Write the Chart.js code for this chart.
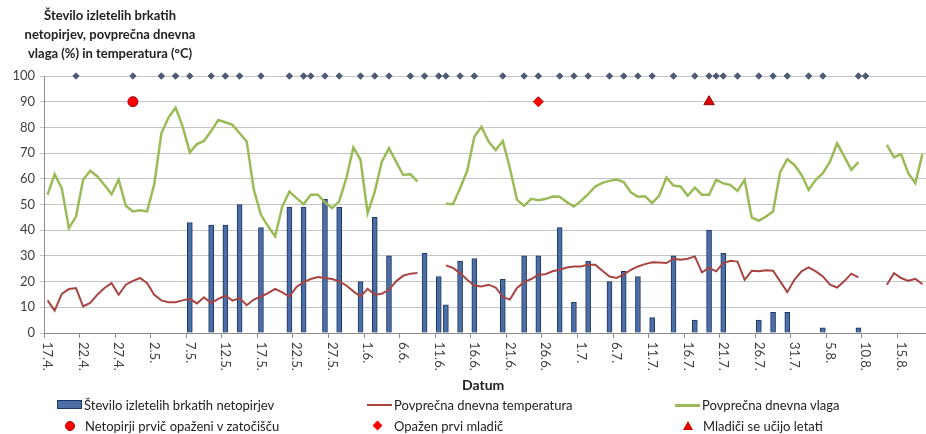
<!DOCTYPE html>
<html>
<head>
<meta charset="utf-8">
<script src="https://cdn.jsdelivr.net/npm/chart.js@4/dist/chart.umd.min.js"></script>
<style>
  body { margin: 0; background: #fff; font-family: Lato, "Open Sans", sans-serif; color: #222; }
  #wrap { position: relative; width: 926px; height: 434px; overflow: hidden; }
  #chart { position: absolute; left: 0; top: 0; }
  .title { position: absolute; left: 10px; top: 6px; width: 200px; text-align: center; font-weight: bold; font-size: 13px; line-height: 19px; }
  .axis-title { position: absolute; left: 462px; top: 376px; font-weight: bold; font-size: 14px; }
  .lg { position: absolute; font-size: 13px; line-height: 16px; white-space: nowrap; }
  .sym { position: absolute; }
</style>
</head>
<body>
<div id="wrap">
  <canvas id="chart" width="926" height="434"></canvas>
  <div class="title">Število izletelih brkatih<br>netopirjev, povprečna dnevna<br>vlaga (%) in temperatura (°C)</div>
  <div class="axis-title">Datum</div>

  <div class="sym" style="left:57px;top:400px;width:23px;height:7px;background:#4b6ea6;border:1px solid #1e3560;"></div>
  <div class="lg" style="left:84px;top:397px;">Število izletelih brkatih netopirjev</div>
  <div class="sym" style="left:367px;top:404px;width:25px;height:2px;background:#a84543;"></div>
  <div class="lg" style="left:394px;top:397px;">Povprečna dnevna temperatura</div>
  <div class="sym" style="left:675px;top:404px;width:25px;height:2.5px;background:#9bbb59;"></div>
  <div class="lg" style="left:702px;top:397px;">Povprečna dnevna vlaga</div>

  <div class="sym" style="left:65px;top:421px;width:8px;height:8px;border-radius:50%;background:#ff0000;border:1px solid #a00000;"></div>
  <div class="lg" style="left:85px;top:418px;">Netopirji prvič opaženi v zatočišču</div>
  <div class="sym" style="left:374px;top:422px;width:7px;height:7px;background:#ff0000;transform:rotate(45deg);"></div>
  <div class="lg" style="left:394px;top:418px;">Opažen prvi mladič</div>
  <div class="sym" style="left:683px;top:421px;width:0;height:0;border-left:5px solid transparent;border-right:5px solid transparent;border-bottom:9px solid #e00000;"></div>
  <div class="lg" style="left:703px;top:418px;">Mladiči se učijo letati</div>
</div>

<script>
// categories: one per day, 17.4. .. 18.8.
const startDay = 17, startMonth = 4, dayCount = 124;
const monthDays = { 4: 30, 5: 31, 6: 30, 7: 31, 8: 31 };
const days = [];
for (let d = startDay, m = startMonth; days.length < dayCount; d++) {
  if (d > monthDays[m]) { d = 1; m++; }
  days.push(d + '.' + m + '.');
}

// labels under the axis, every 5th day
const tickLabels = ['17.4.', '22.4.', '27.4.', '2.5.', '7.5.', '12.5.', '17.5.', '22.5.', '27.5.', '1.6.',
  '6.6.', '11.6.', '16.6.', '21.6.', '26.6.', '1.7.', '6.7.', '11.7.', '16.7.', '21.7.',
  '26.7.', '31.7.', '5.8.', '10.8.', '15.8.'];

// number of emerged bats (day index -> count)
const batDays   = [20, 23, 25, 27, 30, 34, 36, 39, 41, 44, 46, 48, 53, 55, 56, 58, 60, 64, 67, 69, 72, 74, 76, 79, 81, 83, 85, 88, 91, 93, 95, 100, 102, 104, 109, 114];
const batCounts = [43, 42, 42, 50, 41, 49, 49, 52, 49, 20, 45, 30, 31, 22, 11, 28, 29, 21, 30, 30, 41, 12, 28, 20, 24, 22, 6, 30, 5, 40, 31, 5, 8, 8, 2, 2];

// observation days (marker on 100)
const obsDays = [4, 12, 16, 18, 20, 23, 25, 27, 30, 34, 36, 37, 39, 41, 44, 46, 48, 51, 53, 55, 56, 58, 60, 64, 67, 69, 72, 74, 76, 79,
  81, 83, 85, 88, 91, 93, 94, 95, 97, 100, 102, 104, 107, 109, 114, 115];

const humidity = [
  53.8, 61.8, 56.3, 40.8, 45.3, 59.6, 63.1, 60.9, 57.6, 54.0,
  59.7, 49.5, 47.3, 47.8, 47.3, 57.9, 77.7, 83.8, 87.7, 80.3,
  70.3, 73.5, 74.7, 78.6, 82.9, 82.0, 81.0, 77.7, 74.5, 55.7,
  46.0, 41.5, 37.6, 49.2, 55.0, 52.5, 50.1, 53.8, 53.8, 50.8,
  48.6, 51.2, 60.2, 72.2, 67.4, 46.6, 55.0, 66.7, 71.9, 66.7,
  61.5, 61.8, 58.9, null, null, null, 50.4, 50.1, 56.3, 63.1,
  76.4, 80.3, 74.5, 71.2, 74.7, 64.1, 51.8, 49.5, 52.2, 51.7,
  52.1, 53.1, 53.0, 50.9, 49.2, 51.4, 54.0, 57.0, 58.4, 59.2,
  59.7, 58.7, 54.7, 53.0, 53.2, 50.6, 53.5, 60.5, 57.4, 57.0,
  53.4, 56.6, 53.8, 53.8, 59.6, 58.2, 57.6, 55.3, 59.6, 44.9,
  43.7, 45.3, 47.3, 62.6, 67.6, 65.4, 61.5, 55.7, 59.6, 62.2,
  66.7, 73.8, 68.7, 63.5, 66.5, null, null, null, 73.2, 68.3,
  69.6, 62.2, 58.3, 69.6
];

const temperature = [
  12.7, 8.7, 15.2, 17.1, 17.5, 10.4, 11.7, 14.9, 17.5, 19.4,
  14.9, 18.8, 20.3, 21.4, 19.4, 14.9, 12.7, 12.0, 12.0, 12.7,
  13.3, 11.5, 13.9, 11.7, 13.3, 14.5, 12.6, 13.6, 10.8, 13.0,
  14.2, 15.5, 17.2, 15.8, 14.2, 17.9, 19.8, 21.0, 21.8, 21.4,
  21.0, 20.1, 18.5, 16.2, 14.2, 17.2, 14.9, 15.3, 16.8, 20.1,
  22.3, 23.1, 23.3, null, null, null, 26.3, 25.3, 23.3, 20.7,
  18.5, 18.1, 18.8, 17.7, 14.0, 13.0, 17.5, 19.8, 21.0, 22.7,
  22.9, 24.0, 24.6, 25.5, 25.9, 25.9, 26.6, 26.6, 24.2, 22.0,
  21.4, 22.7, 24.6, 25.9, 26.8, 27.5, 27.4, 27.2, 28.9, 28.5,
  28.9, 29.8, 23.6, 25.3, 24.0, 27.2, 28.1, 27.8, 20.7, 24.2,
  24.0, 24.4, 24.2, 20.1, 15.9, 20.7, 24.0, 25.5, 24.0, 22.0,
  18.8, 17.7, 20.1, 23.1, 21.6, null, null, null, 18.8, 23.3,
  21.4, 20.3, 21.1, 19.0
];

// single events, plotted at 90
const firstSeenDay = 12;
const firstYoungDay = 69;
const youngFlyingDay = 93;
const eventLevel = 90;
const obsLevel = 100;

function sparse(idx, vals) {
  const out = days.map(() => null);
  idx.forEach((d, k) => { out[d] = Array.isArray(vals) ? vals[k] : vals; });
  return out;
}

const xLabels = {
  id: 'xLabels',
  afterDraw(chart) {
    const x = chart.scales.x, ctx = chart.ctx;
    ctx.save();
    ctx.font = '13px Lato';
    ctx.fillStyle = '#404040';
    ctx.textAlign = 'left';
    ctx.textBaseline = 'middle';
    tickLabels.forEach((t, k) => {
      ctx.save();
      ctx.translate(x.getPixelForValue(k * 5), x.top + 9);
      ctx.rotate(Math.PI / 2);
      ctx.fillText(t, 0, 0);
      ctx.restore();
    });
    ctx.restore();
  }
};

const marker = (data, style, radius, fill, border) => ({
  type: 'line', data, showLine: false, clip: false, order: 1,
  pointStyle: style, pointRadius: radius, pointHoverRadius: radius,
  pointBackgroundColor: fill, pointBorderColor: border, pointBorderWidth: 1
});

new Chart(document.getElementById('chart'), {
  type: 'bar',
  data: {
    labels: days,
    datasets: [
      {
        label: 'Število izletelih brkatih netopirjev',
        data: sparse(batDays, batCounts),
        backgroundColor: '#4b6ea6',
        borderColor: '#1e3560',
        borderWidth: 1,
        barThickness: 5,
        order: 10
      },
      {
        type: 'line', label: 'Povprečna dnevna temperatura', data: temperature,
        borderColor: '#a84543', borderWidth: 2, pointRadius: 0, tension: 0, spanGaps: false, order: 3
      },
      {
        type: 'line', label: 'Povprečna dnevna vlaga', data: humidity,
        borderColor: '#9bbb59', borderWidth: 2.5, pointRadius: 0, tension: 0, spanGaps: false, order: 2
      },
      marker(sparse(obsDays, obsLevel), 'rectRot', 3.2, '#4e5b73', '#4e5b73'),
      marker(sparse([firstSeenDay], eventLevel), 'circle', 5, '#ff0000', '#a00000'),
      marker(sparse([firstYoungDay], eventLevel), 'rectRot', 5, '#ff0000', '#c00000'),
      marker(sparse([youngFlyingDay], eventLevel), 'triangle', 6, '#e00000', '#900000')
    ]
  },
  options: {
    responsive: false,
    animation: false,
    devicePixelRatio: 1,
    layout: { autoPadding: false, padding: { top: 76, left: 0, right: 0, bottom: 0 } },
    plugins: { legend: { display: false }, tooltip: { enabled: false } },
    scales: {
      x: {
        offset: true,
        afterFit: s => { s.height = 101; },
        ticks: { display: false },
        grid: {
          offset: true,
          drawOnChartArea: false,
          drawTicks: true,
          tickLength: 5,
          color: c => (c.index % 5 === 0 ? '#8c8c8c' : 'rgba(0,0,0,0)')
        },
        border: { color: '#8c8c8c' }
      },
      y: {
        min: 0, max: 100,
        afterFit: s => { s.width = 44; },
        ticks: { stepSize: 10, padding: 5, color: '#404040', font: { family: 'Lato', size: 13 } },
        grid: { color: '#c4c4c4', tickLength: 4 },
        border: { color: '#8c8c8c' }
      }
    }
  },
  plugins: [xLabels]
});
</script>
</body>
</html>
